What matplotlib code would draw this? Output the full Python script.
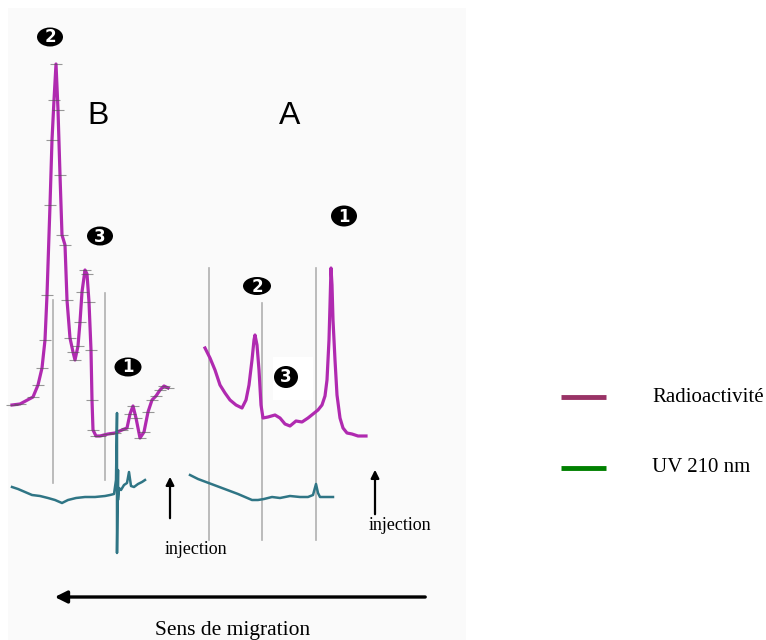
import matplotlib
matplotlib.use("Agg")
from matplotlib import pyplot as plt
from matplotlib.patches import Ellipse, Rectangle

# electropherogram traces (x position, signal height)
radioB_x = [12, 20, 33, 38, 42, 45, 47, 50, 52, 54, 56, 58, 60, 62, 65, 67, 70, 73, 75, 78, 80, 82,
            85, 87, 89, 91, 92, 93, 96, 100, 108, 115, 122, 127, 130, 133, 136, 140, 144, 148, 152,
            156, 160, 164, 168]
radioB_y = [405, 404, 397, 385, 368, 340, 295, 205, 140, 100, 64, 110, 175, 235, 245, 300, 338, 352,
            360, 346, 322, 292, 270, 274, 302, 350, 400, 430, 436, 436, 434, 433, 430, 428, 414, 406,
            418, 438, 432, 412, 400, 396, 390, 386, 388]

radioA_x = [205, 210, 215, 220, 225, 230, 236, 242, 246, 249, 252, 254, 255, 257, 259, 261, 263,
            268, 275, 280, 285, 290, 296, 302, 308, 313, 318, 322, 325, 327, 329, 330, 331, 332,
            333, 335, 337, 340, 343, 347, 352, 358, 366]
radioA_y = [348, 358, 370, 385, 393, 400, 405, 408, 400, 385, 360, 340, 335, 345, 370, 405, 418,
            417, 415, 418, 424, 426, 421, 422, 418, 414, 410, 405, 396, 380, 340, 305, 268, 285,
            320, 360, 395, 418, 428, 433, 434, 436, 436]

uvB_x = [12, 18, 25, 32, 40, 48, 55, 62, 68, 76, 85, 95, 105, 110, 114, 116, 117, 117, 118, 118,
         119, 121, 124, 127, 129, 131, 134, 138, 142, 145]
uvB_y = [487, 489, 492, 495, 496, 498, 500, 503, 500, 498, 497, 497, 496, 495, 494, 480, 413, 553,
         470, 500, 488, 490, 485, 483, 472, 486, 487, 484, 482, 480]

uvA_x = [190, 198, 206, 214, 222, 230, 238, 245, 252, 258, 264, 272, 280, 290, 300, 308, 313,
         316, 318, 320, 324, 333]
uvA_y = [475, 479, 482, 485, 488, 491, 494, 497, 500, 500, 499, 497, 498, 496, 497, 497, 495,
         484, 493, 497, 497, 497]

# guide lines (x, top, bottom)
guide_x = [53, 105, 209, 262, 316]
guide_top = [300, 293, 268, 303, 268]
guide_bottom = [483, 480, 540, 540, 540]

# peak labels (black ellipse badge with white digit)
peak_labels = ["2", "3", "1", "1", "2", "3"]
peak_x = [50, 100, 128, 344, 257, 286]
peak_y = [37, 236, 367, 216, 286, 377]
peak_w = [26, 26, 27, 26, 28, 24]
peak_h = [19, 19, 19, 21, 18, 22]

panel_labels = ["B", "A"]
panel_x = [98, 290]
panel_y = [116, 116]

injection_x = [170, 375]
injection_tail = [521, 517]
injection_head = [474, 467]
injection_label_x = [196, 400]
injection_label_y = [549, 526]

legend_labels = ["Radioactivité", "UV 210 nm"]
legend_colors = ["#993366", "#008000"]
legend_y = [397, 468]

MAGENTA = "#b02ab0"
TEAL = "#2f7585"

fig = plt.figure(figsize=(7.66, 6.4), dpi=100)
ax = fig.add_axes([0, 0, 1, 1])
ax.set_xlim(0, 766)
ax.set_ylim(640, 0)
ax.axis("off")

# faint scanned background of the figure
ax.add_patch(Rectangle((8, 8), 458, 632, facecolor="#fafafa", edgecolor="none", zorder=0))
ax.add_patch(Rectangle((273, 357), 40, 43, facecolor="white", edgecolor="none", zorder=0.5))

for gx, gt, gb in zip(guide_x, guide_top, guide_bottom):
    ax.plot([gx, gx], [gt, gb], color="#b0b0b0", lw=1.2, zorder=1)

ax.plot(radioB_x, radioB_y, color=MAGENTA, lw=2.3, zorder=3)
ax.plot(radioB_x, radioB_y, ls="none", marker="_", ms=8, mew=0.8, color="#555555", alpha=0.6, zorder=4)
ax.plot(radioA_x, radioA_y, color=MAGENTA, lw=2.3, zorder=3)
ax.plot(uvB_x, uvB_y, color=TEAL, lw=1.8, zorder=3)
ax.plot(uvA_x, uvA_y, color=TEAL, lw=1.8, zorder=3)

for lab, px, py, pw, ph in zip(peak_labels, peak_x, peak_y, peak_w, peak_h):
    ax.add_patch(Ellipse((px, py), pw, ph, facecolor="black", edgecolor="none", zorder=5))
    ax.text(px, py + 0.5, lab, fontsize=12, fontweight="bold", ha="center", va="center",
            family="DejaVu Sans", color="white", zorder=6)

for lab, px, py in zip(panel_labels, panel_x, panel_y):
    ax.text(px, py, lab, fontsize=23, ha="center", va="center", family="Liberation Sans", zorder=5)

for ix, it, ih in zip(injection_x, injection_tail, injection_head):
    ax.annotate("", xy=(ix, ih), xytext=(ix, it),
                arrowprops=dict(arrowstyle="-|>", color="black", lw=1.6, mutation_scale=12))
for lx, ly in zip(injection_label_x, injection_label_y):
    ax.text(lx, ly, "injection", fontsize=13, ha="center", va="center", family="Liberation Serif")

ax.annotate("", xy=(52, 597), xytext=(428, 597),
            arrowprops=dict(arrowstyle="-|>", color="black", lw=2.4, mutation_scale=18))
ax.text(233, 630, "Sens de migration", fontsize=15.5, ha="center", va="center",
        family="Liberation Serif")

for lab, col, ly in zip(legend_labels, legend_colors, legend_y):
    ax.plot([561, 606], [ly, ly], color=col, lw=3.5, solid_capstyle="butt")
    ax.text(652, ly, lab, fontsize=15, ha="left", va="center", family="Liberation Serif")

fig.savefig("out.png", dpi=100, facecolor="white")
